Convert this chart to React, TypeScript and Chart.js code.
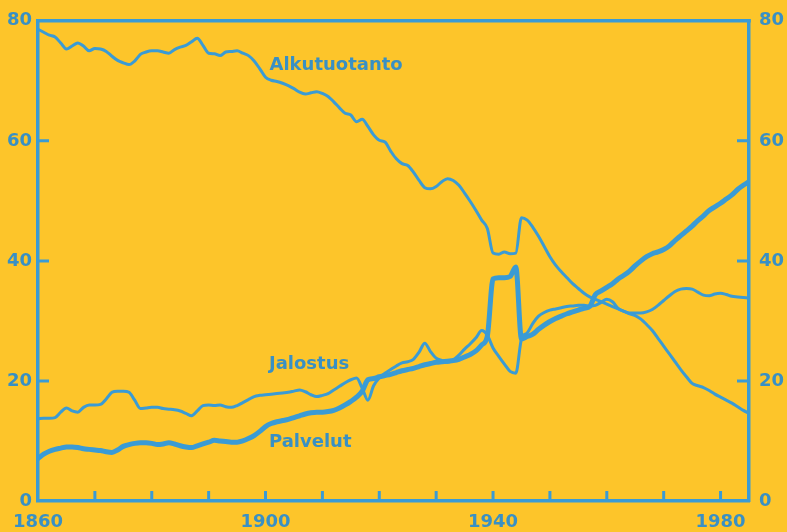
import React, { useEffect, useRef } from "react";
import { Chart, registerables } from "chart.js";

Chart.register(...registerables);

const startYear = 1860;
const endYear = 1985;

const alkutuotanto = [
  78.6, 78.1, 77.6, 77.3, 76.3, 75.3, 75.8, 76.3, 75.8, 75.0,
  75.4, 75.3, 74.9, 74.1, 73.4, 73.0, 72.7, 73.3, 74.4, 74.8,
  75.0, 75.0, 74.8, 74.6, 75.2, 75.6, 75.9, 76.5, 77.1, 75.9,
  74.6, 74.5, 74.2, 74.8, 74.9, 75.0, 74.6, 74.2, 73.3, 72.0,
  70.6, 70.1, 69.9, 69.6, 69.2, 68.7, 68.1, 67.8, 68.0, 68.2,
  67.9, 67.4, 66.5, 65.5, 64.6, 64.3, 63.2, 63.6, 62.4, 61.0,
  60.1, 59.8, 58.3, 57.0, 56.2, 55.9, 54.8, 53.4, 52.2, 52.0,
  52.4, 53.2, 53.7, 53.4, 52.6, 51.3, 49.9, 48.4, 46.8, 45.4,
  41.3, 41.1, 41.5, 41.2, 41.3, 47.2, 46.8, 45.6, 44.1, 42.4,
  40.7, 39.3, 38.2, 37.2, 36.2, 35.4, 34.6, 34.0, 33.6, 33.2,
  32.8, 32.4, 32.0, 31.6, 31.2, 30.9, 30.3, 29.4, 28.4, 27.1,
  25.8, 24.5, 23.2, 21.9, 20.7, 19.6, 19.2, 18.9, 18.4, 17.8,
  17.3, 16.8, 16.3, 15.7, 15.1, 14.6,
];

const jalostus = [
  13.7, 13.8, 13.8, 13.9, 14.8, 15.5, 15.0, 14.8, 15.6, 16.0,
  16.0, 16.1, 17.0, 18.1, 18.3, 18.3, 18.1, 16.8, 15.4, 15.5,
  15.6, 15.6, 15.4, 15.3, 15.2, 15.0, 14.6, 14.2, 15.0, 15.9,
  16.0, 15.9, 16.0, 15.7, 15.6, 15.9, 16.4, 16.9, 17.4, 17.6,
  17.7, 17.8, 17.9, 18.0, 18.1, 18.3, 18.5, 18.2, 17.7, 17.4,
  17.6, 17.9, 18.5, 19.1, 19.7, 20.2, 20.5, 18.8, 16.8, 19.2,
  20.5, 21.3, 21.9, 22.5, 23.0, 23.2, 23.6, 24.8, 26.3, 24.9,
  23.8, 23.4, 23.1, 23.5, 24.3, 25.3, 26.2, 27.2, 28.4, 27.6,
  25.5, 24.1, 22.8, 21.6, 21.3, 27.0, 28.0, 29.6, 30.8, 31.4,
  31.8, 32.0, 32.2, 32.4, 32.5, 32.6, 32.6, 32.5, 32.6, 33.1,
  33.6, 33.2, 32.1, 31.6, 31.3, 31.3, 31.3, 31.5, 31.9, 32.6,
  33.4, 34.2, 34.9, 35.3, 35.4, 35.3, 34.8, 34.3, 34.2, 34.5,
  34.6, 34.4, 34.1, 34.0, 33.9, 33.8,
];

const palvelut = [
  7.1, 7.8, 8.3, 8.6, 8.8, 9.0, 9.0, 8.9, 8.7, 8.6,
  8.5, 8.4, 8.2, 8.1, 8.5, 9.1, 9.4, 9.6, 9.7, 9.7,
  9.6, 9.4, 9.5, 9.7, 9.5, 9.2, 9.0, 8.9, 9.2, 9.5,
  9.8, 10.1, 10.0, 9.9, 9.8, 9.8, 10.0, 10.4, 10.9, 11.6,
  12.4, 12.9, 13.2, 13.4, 13.6, 13.9, 14.2, 14.5, 14.7, 14.8,
  14.8, 14.9, 15.1, 15.5, 16.0, 16.6, 17.3, 18.3, 20.2, 20.4,
  20.7, 20.9, 21.1, 21.4, 21.7, 21.9, 22.1, 22.4, 22.7, 22.9,
  23.1, 23.2, 23.3, 23.4, 23.6, 24.0, 24.4, 25.0, 26.0, 27.5,
  37.0, 37.2, 37.2, 37.4, 39.0, 27.0, 27.4, 27.8, 28.6, 29.3,
  29.9, 30.4, 30.8, 31.2, 31.5, 31.8, 32.1, 32.4, 34.4, 35.0,
  35.6, 36.2, 37.0, 37.6, 38.3, 39.2, 40.0, 40.7, 41.2, 41.5,
  41.9, 42.5, 43.4, 44.2, 45.0, 45.8, 46.7, 47.5, 48.4, 49.0,
  49.6, 50.3, 51.0, 51.9, 52.6, 53.2,
];

const xLabelYears = [1860, 1900, 1940, 1980];
const xInnerTicks = [1870, 1880, 1890, 1900, 1910, 1920, 1930, 1940, 1950, 1960, 1970, 1980];
const yInnerTicks = [20, 40, 60];

const seriesLabels = [
  { text: "Alkutuotanto", year: 1900.7, value: 72.5 },
  { text: "Jalostus", year: 1900.6, value: 22.8 },
  { text: "Palvelut", year: 1900.6, value: 9.8 },
];

const BG = "#FDC52A";
const BLUE = "#3A9BD5";
const TEXT = "#3990C4";
const FONT = "DejaVu Sans";

const years: number[] = [];
for (let yr = startYear; yr <= endYear; yr++) years.push(yr);

const toPoints = (vals: number[]) => vals.map((v, i) => ({ x: years[i], y: v }));

const framePlugin = {
  id: "frame",
  afterDatasetsDraw(chart: any) {
    const { ctx, chartArea: a, scales } = chart;
    const xs = scales.x;
    const ys = scales.y;
    ctx.save();
    ctx.strokeStyle = BLUE;
    ctx.lineCap = "butt";
    ctx.lineWidth = 3.5;
    ctx.beginPath();
    ctx.moveTo(a.left - 1.75, a.top);
    ctx.lineTo(a.right + 1.75, a.top);
    ctx.stroke();
    ctx.lineWidth = 3;
    for (const v of yInnerTicks) {
      const py = ys.getPixelForValue(v);
      ctx.beginPath();
      ctx.moveTo(a.left, py);
      ctx.lineTo(a.left + 11, py);
      ctx.moveTo(a.right, py);
      ctx.lineTo(a.right - 12, py);
      ctx.stroke();
    }
    for (const yr of xInnerTicks) {
      const px = xs.getPixelForValue(yr);
      ctx.beginPath();
      ctx.moveTo(px, a.bottom);
      ctx.lineTo(px, a.bottom - 10);
      ctx.stroke();
    }
    ctx.fillStyle = TEXT;
    ctx.font = `bold 18px "${FONT}"`;
    ctx.textBaseline = "middle";
    ctx.textAlign = "left";
    for (const l of seriesLabels) {
      ctx.fillText(l.text, xs.getPixelForValue(l.year), ys.getPixelForValue(l.value));
    }
    ctx.restore();
  },
};

export default function App() {
  const ref = useRef<HTMLCanvasElement | null>(null);
  useEffect(() => {
    if (!ref.current) return;
    document.body.style.margin = "0";
    const tickFont = { family: FONT, size: 18, weight: "bold" as const };
    const yAxis = (position: "left" | "right") => ({
      type: "linear" as const,
      position,
      min: 0,
      max: 80,
      afterFit: (s: any) => {
        s.width = 38;
      },
      grid: { display: true, drawOnChartArea: false, drawTicks: false },
      border: { display: true, color: BLUE, width: 3.5 },
      ticks: { stepSize: 20, color: TEXT, font: tickFont, padding: position === "left" ? 6 : 10 },
    });
    const chart = new Chart(ref.current, {
      type: "line",
      data: {
        datasets: [
          {
            label: "Alkutuotanto",
            data: toPoints(alkutuotanto),
            borderColor: BLUE,
            borderWidth: 3,
            pointRadius: 0,
            cubicInterpolationMode: "monotone",
            borderJoinStyle: "round",
            borderCapStyle: "round",
            yAxisID: "y",
          },
          {
            label: "Jalostus",
            data: toPoints(jalostus),
            borderColor: BLUE,
            borderWidth: 3,
            pointRadius: 0,
            cubicInterpolationMode: "monotone",
            borderJoinStyle: "round",
            borderCapStyle: "round",
            yAxisID: "y",
          },
          {
            label: "Palvelut",
            data: toPoints(palvelut),
            borderColor: BLUE,
            borderWidth: 5,
            pointRadius: 0,
            cubicInterpolationMode: "monotone",
            borderJoinStyle: "round",
            borderCapStyle: "round",
            yAxisID: "y",
          },
        ],
      },
      options: {
        animation: false,
        responsive: false,
        devicePixelRatio: 1,
        layout: { padding: { top: 16, left: 0, right: 0, bottom: 0 } },
        plugins: { legend: { display: false }, tooltip: { enabled: false } },
        scales: {
          x: {
            type: "linear",
            position: "bottom",
            min: startYear,
            max: endYear,
            afterFit: (s: any) => {
              s.height = 31;
            },
            grid: { display: true, drawOnChartArea: false, drawTicks: false },
            border: { display: true, color: BLUE, width: 3.5 },
            ticks: {
              stepSize: 10,
              includeBounds: false,
              autoSkip: false,
              maxRotation: 0,
              color: TEXT,
              font: tickFont,
              padding: 11,
              callback: (v: any) => (xLabelYears.includes(Number(v)) ? String(v) : ""),
            },
          },
          y: yAxis("left"),
          y2: yAxis("right"),
        },
      },
      plugins: [framePlugin],
    });
    return () => chart.destroy();
  }, []);
  return (
    <div style={{ position: "fixed", left: 0, top: 0, width: 787, height: 532, background: BG }}>
      <canvas ref={ref} width={787} height={532} style={{ display: "block" }} />
    </div>
  );
}
